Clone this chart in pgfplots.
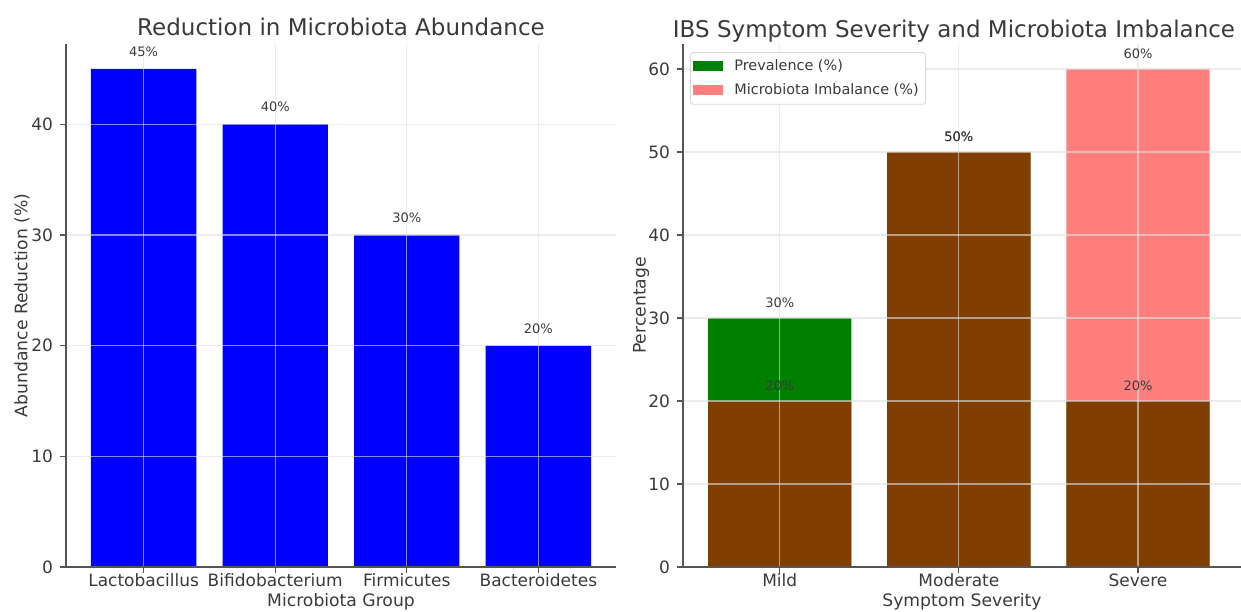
\documentclass[border=0pt]{standalone}
\usepackage{fontspec}
\setmainfont{DejaVu Sans}
\usepackage{pgfplots}
\pgfplotsset{compat=1.18}
\definecolor{txt}{HTML}{3A3A3A}
\definecolor{spine}{HTML}{555555}
\definecolor{mplgreen}{HTML}{008000}
\begin{document}
\begin{tikzpicture}[x=1pt,y=1pt]
\useasboundingbox (0,0) rectangle (620.5,305.5);
\pgfplotsset{
  mystyle/.style={
    scale only axis,
    axis x line*=bottom, axis y line*=left,
    axis line style={spine, line width=0.6pt},
    tick style={spine, line width=0.6pt},
    tick align=outside, major tick length=3pt,
    grid=major, major grid style={black!12, line width=0.6pt, opacity=0.6},
    axis on top,
    ymin=0,
    ybar, bar shift=0pt, bar width=0.8,
    ticklabel style={font=\fontsize{8.5}{10}\selectfont, text=txt},
    xticklabel style={yshift=3pt},
    /pgf/number format/assume math mode=true,
    label style={font=\fontsize{8.6}{10}\selectfont, text=txt},
    title style={font=\fontsize{11.5}{13}\selectfont, text=txt},
    xlabel style={at={(axis description cs:0.5,0)}, anchor=center, yshift=-17.5pt},
    nodes near coords={\pgfmathprintnumber{\pgfplotspointmeta}\%},
  }
}
\begin{axis}[mystyle,
  at={(33pt,22pt)}, anchor=south west,
  width=275pt, height=261.5pt,
  xmin=-0.59, xmax=3.59, ymax=47.25,
  xtick={0,1,2,3},
  xticklabels={Lactobacillus,Bifidobacterium,Firmicutes,Bacteroidetes},
  ytick={0,10,20,30,40},
  title={Reduction in Microbiota Abundance},
  title style={yshift=-5.5pt},
  xlabel={Microbiota Group},
  ylabel={Abundance Reduction (\%)},
  ylabel style={at={(axis description cs:-0.08,0.5)}, anchor=center},
  every node near coord/.append style={font=\fontsize{6.5}{7}\selectfont, text=txt, anchor=center, yshift=8.5pt},
]
\addplot[fill=blue, draw=none] coordinates {(0,45) (1,40) (2,30) (3,20)};
\end{axis}
\begin{axis}[mystyle,
  at={(341.5pt,22pt)}, anchor=south west,
  width=279pt, height=261.5pt,
  xmin=-0.54, xmax=2.575, ymax=63,
  xtick={0,1,2},
  xticklabels={Mild,Moderate,Severe},
  ytick={0,10,20,30,40,50,60},
  title={IBS Symptom Severity and Microbiota Imbalance},
  title style={yshift=-8.5pt, xshift=-4pt},
  xlabel={Symptom Severity},
  ylabel={Percentage},
  ylabel style={at={(axis description cs:-0.075,0.5)}, anchor=center},
  every node near coord/.append style={font=\fontsize{6.5}{7}\selectfont, text=txt, anchor=center, yshift=7.5pt, opacity=1, text opacity=1, fill opacity=1},
  legend style={at={(axis description cs:0,1)}, anchor=north west, xshift=3.5pt, yshift=-4pt,
    draw=black!15, rounded corners=1.5pt, font=\fontsize{7.2}{8.5}\selectfont, text=txt,
    fill=white, inner sep=1.5pt, row sep=1pt},
  legend cell align=left,
  legend image code/.code={\fill[#1, sharp corners] (0pt,-2.5pt) rectangle (15pt,2.5pt); \path (18.5pt,0pt);},
]
\addplot[fill=mplgreen, draw=none] coordinates {(0,30) (1,50) (2,20)};
\addlegendentry{Prevalence (\%)}
\addplot[fill=red, fill opacity=0.5, draw=none] coordinates {(0,20) (1,50) (2,60)};
\addlegendentry{Microbiota Imbalance (\%)}
\end{axis}
\end{tikzpicture}
\end{document}
